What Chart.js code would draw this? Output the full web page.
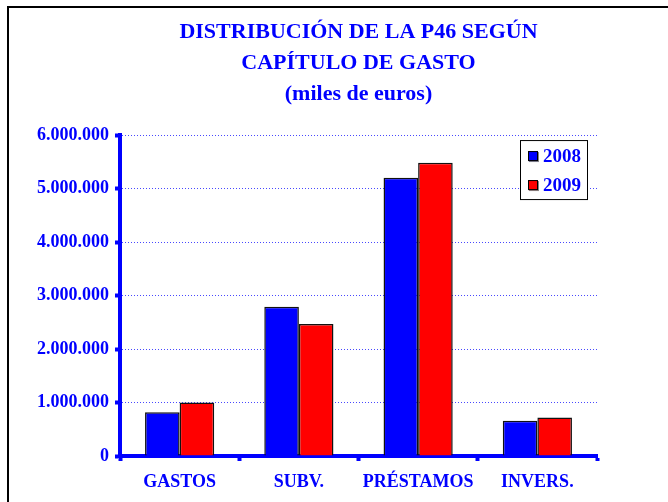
<!DOCTYPE html>
<html>
<head>
<meta charset="utf-8">
<script src="https://cdn.jsdelivr.net/npm/chart.js@4"></script>
<style>
  html, body { margin: 0; padding: 0; background: #fff; }
  .wrap { position: relative; width: 668px; height: 502px; overflow: hidden; }
  .frame { position: absolute; left: 7px; top: 6px; width: 900px; height: 900px; border: 2px solid #000; }
  canvas { position: absolute; left: 0; top: 0; }
</style>
</head>
<body>
<div class="wrap">
  <div class="frame"></div>
  <canvas id="chart" width="668" height="502"></canvas>
</div>
<script>
  // ── Data ──
  const categories = ["GASTOS", "SUBV.", "PRÉSTAMOS", "INVERS."];
  const values2008 = [820000, 2790000, 5200000, 660000];
  const values2009 = [1000000, 2470000, 5480000, 720000];
  const seriesNames = ["2008", "2009"];
  const yMax = 6000000;
  const yStep = 1000000;

  const BLUE = "#0000ff";
  const SERIF = "'Liberation Serif', 'Times New Roman', serif";

  function fmt(v) {
    return String(v).replace(/\B(?=(\d{3})+(?!\d))/g, ".");
  }

  // legend drawn inside the plot area, boxed
  const boxLegend = {
    id: "boxLegend",
    afterDraw(chart) {
      const { ctx, chartArea } = chart;
      const w = 67, h = 59;
      const x = chartArea.right - 10 - w;
      const y = chartArea.top + 5;
      ctx.save();
      ctx.fillStyle = "#fff";
      ctx.fillRect(x, y, w, h);
      ctx.strokeStyle = "#000";
      ctx.lineWidth = 1;
      ctx.strokeRect(x + 0.5, y + 0.5, w, h);
      ctx.font = "bold 19px " + SERIF;
      ctx.textBaseline = "middle";
      chart.data.datasets.forEach((ds, i) => {
        const cy = y + 16 + i * 29;
        ctx.fillStyle = "#888";
        ctx.fillRect(x + 9, cy - 4, 10, 10);
        ctx.fillStyle = ds.backgroundColor;
        ctx.fillRect(x + 8, cy - 5, 10, 10);
        ctx.strokeStyle = "#000";
        ctx.strokeRect(x + 8.5, cy - 4.5, 9, 9);
        ctx.fillStyle = BLUE;
        ctx.fillText(ds.label, x + 23, cy + 1);
      });
      ctx.restore();
    },
  };

  new Chart(document.getElementById("chart"), {
    type: "bar",
    data: {
      labels: categories,
      datasets: [
        {
          label: seriesNames[0],
          data: values2008,
          backgroundColor: "#0000ff",
          borderColor: "#111",
          borderWidth: 1.5,
          borderSkipped: "bottom",
        },
        {
          label: seriesNames[1],
          data: values2009,
          backgroundColor: "#ff0000",
          borderColor: "#111",
          borderWidth: 1.5,
          borderSkipped: "bottom",
        },
      ],
    },
    options: {
      responsive: false,
      animation: false,
      layout: { padding: { left: 0, right: 71, top: 0, bottom: 0 } },
      datasets: { bar: { categoryPercentage: 0.58, barPercentage: 1 } },
      plugins: {
        legend: { display: false },
        tooltip: { enabled: false },
        title: {
          display: true,
          fullSize: false,
          text: ["DISTRIBUCIÓN DE LA P46 SEGÚN", "CAPÍTULO DE GASTO", "(miles de euros)"],
          color: BLUE,
          font: { family: SERIF, size: 22, weight: "bold", lineHeight: 1.41 },
          padding: { top: 17, bottom: 25 },
        },
      },
      scales: {
        x: {
          afterFit: (s) => { s.height = 46; },
          grid: {
            offset: true,
            drawOnChartArea: false,
            tickLength: 5,
            tickWidth: 4,
            tickColor: BLUE,
          },
          border: { color: BLUE, width: 4 },
          ticks: {
            color: BLUE,
            padding: 11,
            font: { family: SERIF, size: 18, weight: "bold" },
          },
        },
        y: {
          min: 0,
          max: yMax,
          afterFit: (s) => { s.width = 120; },
          grid: {
            color: "rgba(40,40,255,0.85)",
            lineWidth: 1,
            tickLength: 5,
            tickWidth: 4,
            tickColor: BLUE,
          },
          border: { color: BLUE, width: 4, dash: [1, 2] },
          ticks: {
            stepSize: yStep,
            color: BLUE,
            padding: 6,
            font: { family: SERIF, size: 18, weight: "bold" },
            callback: (v) => fmt(v),
          },
        },
      },
    },
    plugins: [boxLegend],
  });
</script>
</body>
</html>
